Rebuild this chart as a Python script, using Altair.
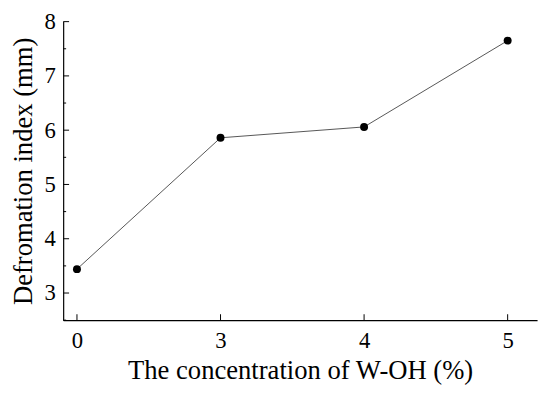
import altair as alt
import pandas as pd

categories = ["0", "3", "4", "5"]
values = [3.44, 5.86, 6.06, 7.65]
y_major = [3, 4, 5, 6, 7, 8]
y_minor = [2.5, 3.5, 4.5, 5.5, 6.5, 7.5]

df = pd.DataFrame({"pos": list(range(len(categories))), "cat": categories, "val": values})
ymaj = pd.DataFrame({"v": y_major})
ymin = pd.DataFrame({"v": y_minor})
xt = pd.DataFrame({"pos": list(range(len(categories)))})

FONT = "Liberation Serif"
xscale = alt.Scale(domain=[-0.096, 3.205], nice=False, zero=False)
yscale = alt.Scale(domain=[2.5, 8], nice=False, zero=False)
H = 303

xaxis = alt.Axis(
    title="The concentration of W-OH (%)",
    values=list(range(len(categories))),
    labelExpr="['" + "','".join(categories) + "'][datum.value]",
    labelPadding=10, titlePadding=5, titleFontSize=27,
)
yaxis = alt.Axis(
    title="Defromation index (mm)", format="d",
    values=y_major, labelPadding=8, titlePadding=7, titleFontSize=27,
)

line = alt.Chart(df).mark_line(color="#555555", strokeWidth=1).encode(
    x=alt.X("pos:Q", scale=xscale, axis=xaxis),
    y=alt.Y("val:Q", scale=yscale, axis=yaxis),
)
pts = alt.Chart(df).mark_point(filled=True, color="black", size=65, opacity=1).encode(
    x=alt.X("pos:Q", scale=xscale, axis=xaxis),
    y=alt.Y("val:Q", scale=yscale, axis=yaxis),
)
ymajt = alt.Chart(ymaj).mark_rule(color="black", strokeWidth=1).encode(
    y=alt.Y("v:Q", scale=yscale, axis=yaxis), x=alt.value(0), x2=alt.value(6)
)
ymint = alt.Chart(ymin).mark_rule(color="black", strokeWidth=1).encode(
    y=alt.Y("v:Q", scale=yscale, axis=yaxis), x=alt.value(0), x2=alt.value(3)
)
xtk = alt.Chart(xt).mark_rule(color="black", strokeWidth=1).encode(
    x=alt.X("pos:Q", scale=xscale, axis=xaxis), y=alt.value(H), y2=alt.value(H - 6)
)

chart = alt.layer(line, pts, ymajt, ymint, xtk).properties(
    width=481, height=H,
    autosize=alt.AutoSizeParams(type="none"),
    padding={"left": 56, "top": 11, "right": 5, "bottom": 64},
).configure_view(stroke=None).configure_axis(
    ticks=False, grid=False, domainColor="black", domainWidth=1.2,
    labelFont=FONT, labelFontSize=23, labelColor="black",
    titleFont=FONT, titleFontWeight="normal", titleColor="black",
)

chart.save("out.html", embed_options={"renderer": "svg", "actions": False})
